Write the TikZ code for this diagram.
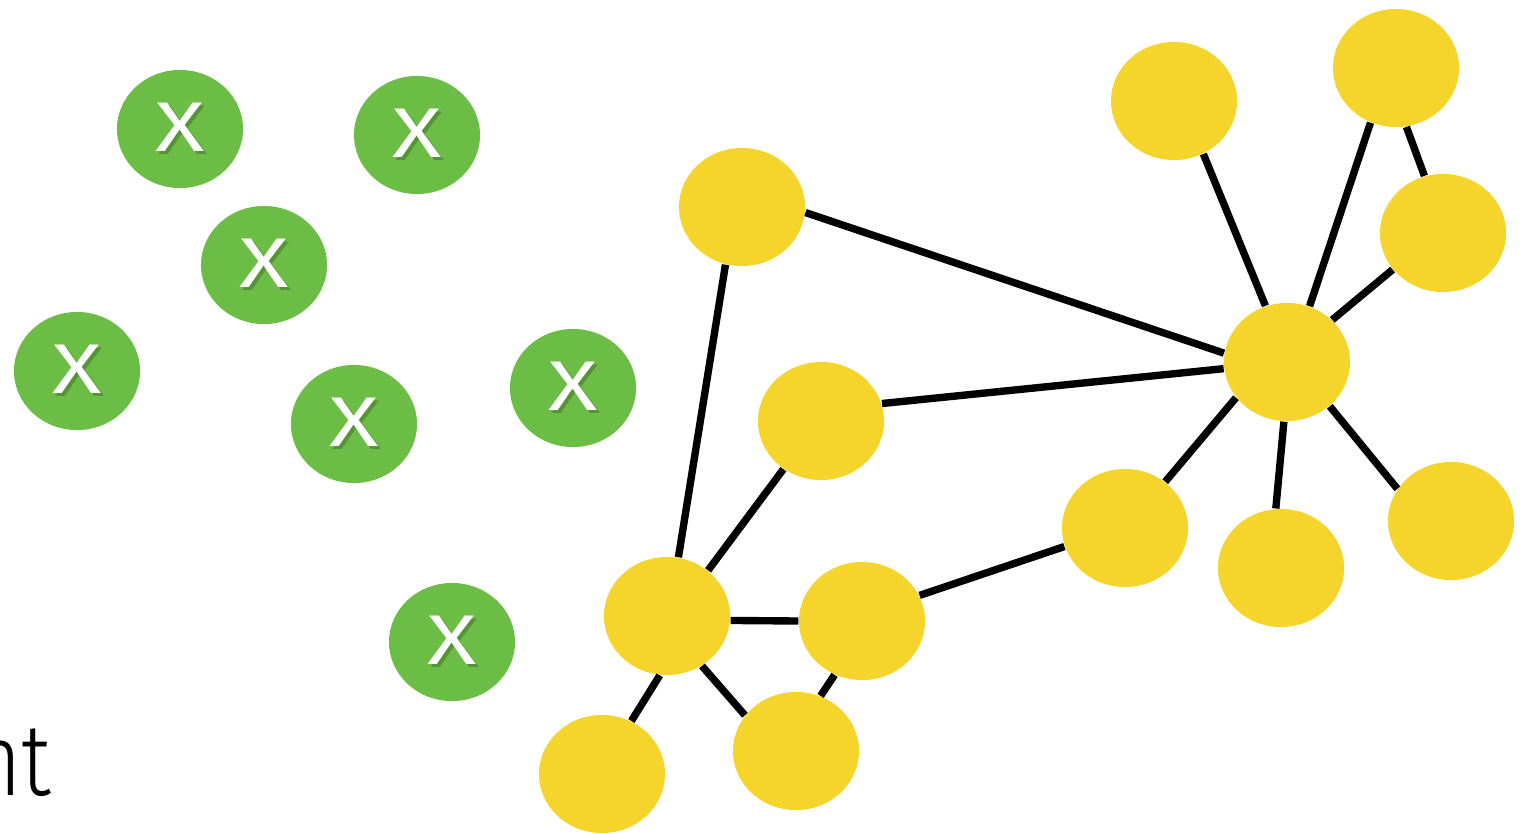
\documentclass[tikz,border=0pt]{standalone}
\usepackage{fontspec}
\newfontfamily\plainsans{Fira Sans}
\newfontfamily\lightsans{Fira Sans Light}
\usetikzlibrary{shapes.geometric}
\definecolor{leafgreen}{HTML}{6CBD45}
\definecolor{blobyellow}{HTML}{F5D42B}
% white cross with a soft drop shadow
\newcommand{\shadedx}{\scalebox{1.3}[1]{\rlap{\raisebox{-0.8pt}{\hspace{0.6pt}\textcolor{black!22!leafgreen}{X}}}X}}

\begin{document}
\begin{tikzpicture}[x=0.01cm, y=-0.01cm,
  blob/.style={ellipse, minimum width=1.26cm, minimum height=1.18cm, inner sep=0pt},
  outvert/.style={blob, fill=leafgreen, text=white, font=\plainsans\fontsize{20}{20}\selectfont},
  netvert/.style={blob, fill=blobyellow},
  netedge/.style={line width=2.1pt, black},
  bigword/.style={font=\lightsans\fontsize{29}{30}\selectfont, inner sep=0pt}]
\useasboundingbox (0,0) rectangle (1531,833);

% loose vertices, not in the network
\node[outvert] (o1) at (180,129) {\shadedx};
\node[outvert] (o2) at (417,135) {\shadedx};
\node[outvert] (o3) at (264,265) {\shadedx};
\node[outvert] (o4) at (77,371)  {\shadedx};
\node[outvert] (o5) at (354,424) {\shadedx};
\node[outvert] (o6) at (573,388) {\shadedx};
\node[outvert] (o7) at (452,642) {\shadedx};

% the connected network
\node[netvert] (a)  at (742,207)  {};
\node[netvert] (b)  at (1174,101) {};
\node[netvert] (c)  at (1396,68)  {};
\node[netvert] (d)  at (1443,233) {};
\node[netvert] (hub) at (1287,362) {};
\node[netvert] (e)  at (821,421)  {};
\node[netvert] (f)  at (1125,528) {};
\node[netvert] (g)  at (1281,568) {};
\node[netvert] (h)  at (1451,521) {};
\node[netvert] (k)  at (667,616)  {};
\node[netvert] (m)  at (862,621)  {};
\node[netvert] (p)  at (602,774)  {};
\node[netvert] (q)  at (796,751)  {};

% edges leave each blob at a fixed border angle
\foreach \i/\j in {a.-5/hub.172, a.-106/k.79, e.16/hub.186, e.-128/k.48,
                   k.-4/m.180, k.-97/p.61, k.-55/q.145, m.-117/q.66,
                   m.24/f.-163, f.49/hub.-145, hub.-93/g.95, hub.-46/h.149,
                   hub.43/d.-144, hub.68/c.-115, hub.111/b.-61, c.-80/d.108}
  {\draw[netedge] (\i) -- (\j);}

\node[bigword, anchor=base east] (tail) at (52,795) {\scalebox{0.85}[1]{nt}};

\end{tikzpicture}
\end{document}
